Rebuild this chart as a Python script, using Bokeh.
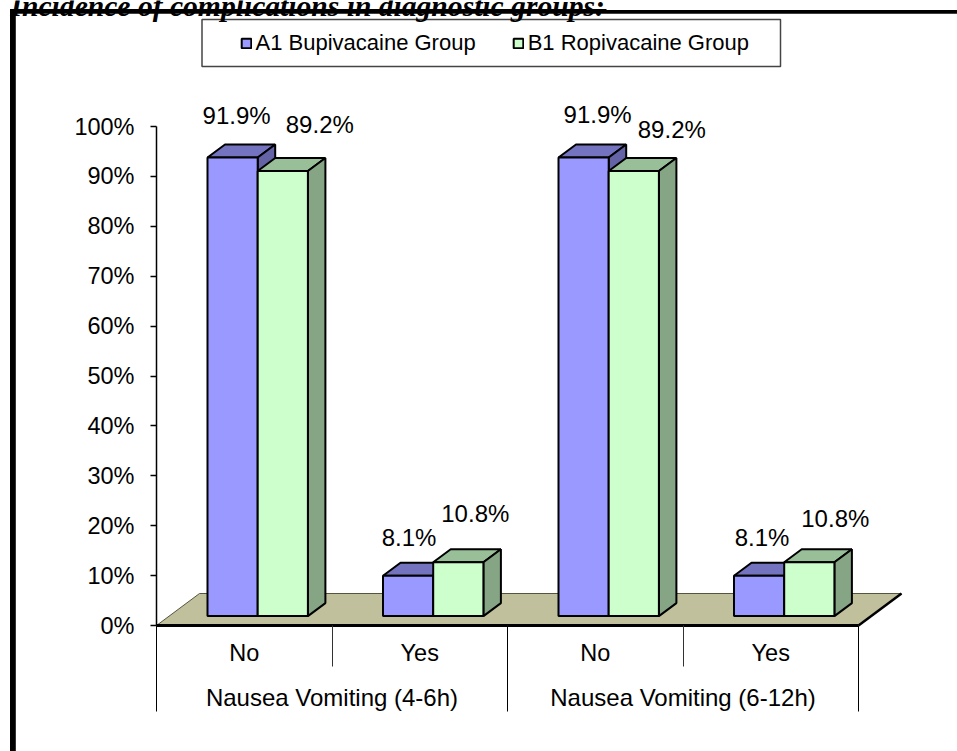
from bokeh.plotting import figure
from bokeh.models import Range1d, LinearAxis, FixedTicker, BoxAnnotation, Label, Legend, LegendItem, ColumnDataSource
from bokeh.core.properties import value
from bokeh.embed import file_html
from bokeh.resources import INLINE

# ---- data ----
title_text = "Incidence of complications in diagnostic groups:"
questions = ["No", "Yes", "No", "Yes"]
periods = ["Nausea Vomiting (4-6h)", "Nausea Vomiting (6-12h)"]
series_names = ["A1 Bupivacaine Group", "B1 Ropivacaine Group"]
a1_values = [91.9, 8.1, 91.9, 8.1]
b1_values = [89.2, 10.8, 89.2, 10.8]
y_ticks = [0, 10, 20, 30, 40, 50, 60, 70, 80, 90, 100]

# ---- layout constants (pixels) ----
W, H = 957, 751
LEFT, BOTTOM = 156, 625
CAT_PX, PCT_PX = 175.5, 4.99
FONT = "Liberation Sans"
FS = "23.5px"
FS_BIG = "24px"
def X(px): return (px - LEFT) / CAT_PX
def Y(py): return (BOTTOM - py) / PCT_PX

BAR_START = 51 / CAT_PX
BAR_W = 50.2 / CAT_PX
BASE = 9.4 / PCT_PX
DX, DY = 17.5 / CAT_PX, 13 / PCT_PX
FX, FY = 43 / CAT_PX, 32 / PCT_PX
N = len(questions)

p = figure(width=W, height=H, output_backend="svg", toolbar_location=None,
           x_range=Range1d(X(0), X(W)), y_range=Range1d(Y(H), Y(0)),
           min_border_left=0, min_border_right=0, min_border_top=0, min_border_bottom=0,
           x_axis_type=None, y_axis_type=None, outline_line_color=None,
           margin=(0, 0, 0, 0))
p.grid.visible = False

# floor
p.patch([0, N, N + FX, FX], [0, 0, FY, FY], fill_color="#c0c09c", line_color=None)
p.line([0, FX, N + FX], [0, FY, FY], line_color="#55553f", line_width=1)
p.line([N, N + FX], [0, FY], line_color="black", line_width=2.5)

# 3D bars
styles = [("#9999ff", "#7373bf", "#6363a6"), ("#ccffcc", "#99bf99", "#85a585")]
front_renderers = []
for s, vals in enumerate([a1_values, b1_values]):
    front, top, side = ([], []), ([], []), ([], [])
    for i, v in enumerate(vals):
        l = i + BAR_START + s * BAR_W
        r = l + BAR_W
        y0, y1 = BASE, BASE + v
        front[0].append([l, r, r, l]); front[1].append([y0, y0, y1, y1])
        top[0].append([l, r, r + DX, l + DX]); top[1].append([y1, y1, y1 + DY, y1 + DY])
        side[0].append([r, r + DX, r + DX, r]); side[1].append([y0, y0 + DY, y1 + DY, y1])
    c_front, c_top, c_side = styles[s]
    p.patches(top[0], top[1], fill_color=c_top, line_color="black", line_width=2)
    p.patches(side[0], side[1], fill_color=c_side, line_color="black", line_width=2)
    front_renderers.append(p.patches(front[0], front[1], fill_color=c_front, line_color="black", line_width=2))

# value labels (offset from bar front centre, px)
LABEL_OFFSETS = [[(4, -42), (1, -38), (14, -43), (3, -38)],
                 [(37, -46), (17, -49), (38, -41), (26, -44)]]
xs, ys, txt, xo, yo = [], [], [], [], []
for s, vals in enumerate([a1_values, b1_values]):
    for i, v in enumerate(vals):
        xs.append(i + BAR_START + (s + 0.5) * BAR_W)
        ys.append(BASE + v)
        txt.append(f"{v}%")
        xo.append(LABEL_OFFSETS[s][i][0])
        yo.append(LABEL_OFFSETS[s][i][1])
src = ColumnDataSource(dict(x=xs, y=ys, t=txt, xo=xo, yo=yo))
p.text("x", "y", text="t", x_offset="xo", y_offset="yo", source=src, text_align="center",
       text_baseline="middle", text_font=value(FONT), text_font_size=value(FS_BIG), text_color="black")

# y axis
ya = LinearAxis(ticker=FixedTicker(ticks=y_ticks), bounds=(0, 100), fixed_location=0,
                major_label_overrides={t: f"{t}%" for t in y_ticks})
ya.major_tick_in = 0; ya.major_tick_out = 6; ya.minor_tick_out = 0; ya.minor_tick_in = 0
ya.major_label_standoff = 16
ya.axis_line_color = "black"; ya.axis_line_width = 1.5
ya.major_tick_line_color = "black"; ya.major_tick_line_width = 1.5
ya.major_label_text_font = FONT; ya.major_label_text_font_size = FS; ya.major_label_text_color = "black"
p.add_layout(ya, "left")

# first category tier
q_pos = [i + 0.5 for i in range(N)]
xa = LinearAxis(ticker=FixedTicker(ticks=q_pos, minor_ticks=list(range(N + 1))), bounds=(0, N), fixed_location=0,
                major_label_overrides=dict(zip(q_pos, questions)))
xa.axis_line_color = "black"; xa.axis_line_width = 3
xa.major_tick_line_color = None; xa.major_tick_in = 0; xa.major_tick_out = 0
xa.minor_tick_line_color = "#333333"; xa.minor_tick_line_width = 1; xa.minor_tick_in = 0; xa.minor_tick_out = 41
xa.major_label_standoff = -27
xa.major_label_text_font = FONT; xa.major_label_text_font_size = FS; xa.major_label_text_color = "black"
p.add_layout(xa, "below")

# second category tier
g_pos = [1 + 2 * i for i in range(len(periods))]
xb = LinearAxis(ticker=FixedTicker(ticks=g_pos, minor_ticks=list(range(0, N + 1, 2))), bounds=(0, N), fixed_location=0,
                major_label_overrides=dict(zip(g_pos, periods)))
xb.axis_line_color = None
xb.major_tick_line_color = None; xb.major_tick_in = 0; xb.major_tick_out = 0
xb.minor_tick_line_color = "black"; xb.minor_tick_line_width = 1; xb.minor_tick_in = 0; xb.minor_tick_out = 86
xb.major_label_standoff = -28
xb.major_label_text_font = FONT; xb.major_label_text_font_size = FS_BIG; xb.major_label_text_color = "black"
p.add_layout(xb, "below")

# legend box, then legend
p.add_layout(BoxAnnotation(left=X(201.5), right=X(780), top=Y(19), bottom=Y(66), fill_color="white", fill_alpha=1,
                           line_color="#444444", line_alpha=1, line_width=1.5))
legend = Legend(items=[LegendItem(label=value(series_names[i]), renderers=[front_renderers[i]]) for i in range(2)],
                orientation="horizontal", location=(239.5, H - 56),
                glyph_width=12, glyph_height=12, label_standoff=4, spacing=36,
                padding=5, margin=0,
                label_text_font=FONT, label_text_font_size="22px", label_text_color="black",
                border_line_color=None, background_fill_alpha=0)
p.add_layout(legend, "center")

# page frame and clipped heading
p.add_layout(BoxAnnotation(left=X(9.5), right=X(W), top=Y(9.5), bottom=Y(13.3), fill_color="black", fill_alpha=1, line_color=None))
p.add_layout(BoxAnnotation(left=X(9.5), right=X(15.3), top=Y(8.5), bottom=Y(H), fill_color="black", fill_alpha=1, line_color=None))
p.add_layout(BoxAnnotation(left=X(9.5), right=X(606), top=Y(8.5), bottom=Y(11), fill_color="black", fill_alpha=1, line_color=None))
p.add_layout(Label(x=X(10), y=Y(5), text=title_text, text_font="Liberation Serif", text_font_style="bold italic",
                   text_font_size="29.6px", text_color="black", text_baseline="alphabetic"))

open("out.html", "w").write(file_html(p, INLINE))
